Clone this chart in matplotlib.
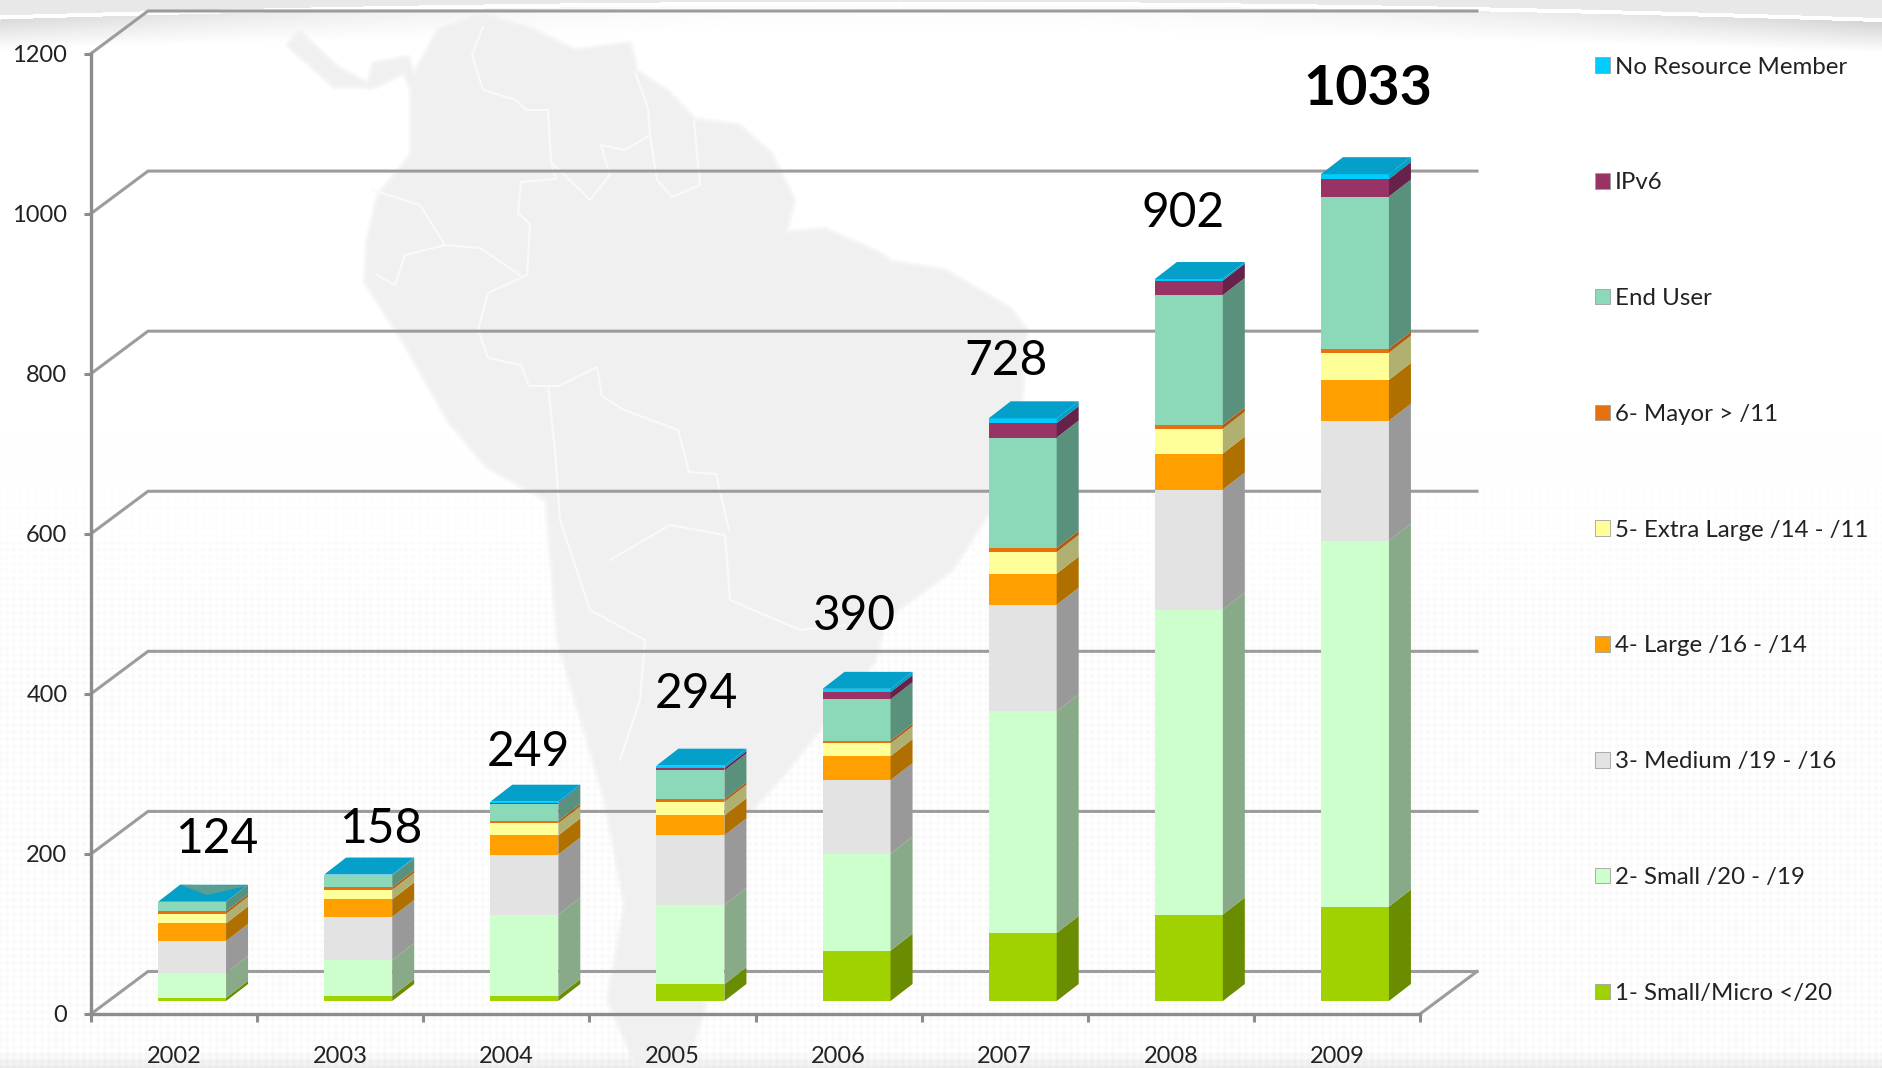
import numpy as np
import matplotlib
matplotlib.use('Agg')
import matplotlib.pyplot as plt
from matplotlib.patches import Patch, Polygon

plt.rcParams['font.family'] = ['Lato', 'DejaVu Sans']

# =============================================================================
# DATA
# =============================================================================
years = ['2002', '2003', '2004', '2005', '2006', '2007', '2008', '2009']
totals = [124, 158, 249, 294, 390, 728, 902, 1033]

small_micro = [4, 6, 6, 21, 63, 85, 108, 118]
small = [31, 45, 102, 99, 121, 277, 381, 457]
medium = [40, 54, 75, 87, 92, 133, 150, 150]
large = [22, 22, 24, 25, 30, 39, 45, 51]
extra_large = [12, 12, 15, 17, 16, 27, 31, 34]
mayor = [3, 3, 3, 3, 3, 5, 5, 5]
end_user = [12, 15, 21, 36, 52, 138, 162, 190]
ipv6 = [0, 0, 1, 3, 9, 18, 18, 22]
no_resource = [0, 1, 2, 3, 4, 6, 2, 6]

series_names = ['1- Small/Micro </20', '2- Small /20 - /19', '3- Medium /19 - /16',
                '4- Large /16 - /14', '5- Extra Large /14 - /11', '6- Mayor > /11',
                'End User', 'IPv6', 'No Resource Member']
series_values = [small_micro, small, medium, large, extra_large, mayor,
                 end_user, ipv6, no_resource]
front_colors = ['#9FD200', '#CCFFCC', '#E3E3E3', '#FF9F00', '#FFFF99', '#E8710F',
                '#8BD9B8', '#993366', '#00CCFF']
side_colors = ['#6A8C00', '#88AA88', '#999999', '#B07000', '#B0B070', '#B05A10',
               '#5A917C', '#66224A', '#00A0C8']
top_color = '#04A0CA'

y_ticks = [0, 200, 400, 600, 800, 1000, 1200]

# label shifts from the bar, in pixels (placed by hand in the original)
label_dx = [25, 23, 4, 6, -2, -17, -6, 13]
label_dy = [63, 46, 50, 72, 73, 57, 66, 85]

# =============================================================================
# FIGURE AND BACKGROUND
# =============================================================================
W, H = 1882, 1068
fig = plt.figure(figsize=(W / 100, H / 100), dpi=100)

bg = fig.add_axes([0, 0, 1, 1], zorder=0)
bg.set_xlim(0, W)
bg.set_ylim(H, 0)
bg.axis('off')

# faint paper texture, stronger towards the bottom
yy, xx = np.mgrid[0:H, 0:W]
tex = ((xx + yy) % 14 < 7) ^ ((xx - yy) % 14 < 7)
img = 1.0 - 0.022 * tex * np.clip((yy - 380) / 300.0, 0, 1)

# curved white streak at the top, grey above it and a fade below it
edge = ((xx - 900) / 900.0) ** 2
streak = 3 + 14 * edge
img = img - 0.09 * (yy < streak - 2)
below = np.clip(1 - (yy - streak - 3) / 30.0, 0, 1) * (yy > streak + 2)
img = img - below * (0.015 + 0.13 * edge)
img = img - np.clip((yy - 1050) / 18.0, 0, 1) * 0.07
bg.imshow(img, cmap='gray', vmin=0, vmax=1, extent=[0, W, H, 0], aspect='auto', zorder=0)

# South America outline behind the chart, edge soft like the blurred original
mapa = [(299, 34), (337, 69), (369, 86), (375, 65), (407, 59), (413, 79), (440, 31),
        (483, 17), (532, 31), (575, 52), (629, 45), (635, 72), (667, 93), (694, 121),
        (738, 127), (770, 155), (792, 200), (784, 234), (825, 231), (879, 255),
        (890, 263), (944, 272), (1009, 310), (1025, 331), (1020, 396), (1015, 470),
        (950, 569), (883, 618), (873, 660), (783, 772), (740, 820), (667, 904),
        (657, 936), (703, 1006), (683, 1068), (640, 1068), (610, 1000), (627, 905),
        (607, 800), (560, 640), (548, 499), (488, 465), (450, 420), (407, 344),
        (367, 282), (369, 241), (380, 196), (413, 155), (413, 90), (405, 70),
        (375, 85), (335, 85), (290, 45)]
for lw in [7, 5, 3, 1.5]:
    bg.add_patch(Polygon(mapa, closed=True, fc='none', ec='#F0F0F0', lw=lw, alpha=0.3,
                         joinstyle='round', zorder=1))
bg.add_patch(Polygon(mapa, closed=True, fc='#F0F0F0', ec='none', zorder=1))

# country borders, in white
granice = [
    [(483, 27), (472, 55), (483, 90), (516, 100), (526, 110), (548, 110), (551, 162),
     (556, 179), (521, 182), (518, 213), (530, 224), (527, 275), (488, 293), (478, 330),
     (488, 358), (521, 365), (529, 386), (559, 386), (597, 367), (602, 396), (624, 410),
     (678, 430), (689, 472), (716, 474), (729, 530)],
    [(551, 162), (590, 200), (610, 175), (601, 145), (625, 150), (650, 135), (648, 108), (635, 72)],
    [(650, 135), (657, 180), (672, 197), (700, 185), (694, 121)],
    [(372, 190), (420, 205), (445, 245), (480, 248), (520, 275)],
    [(445, 245), (405, 255), (395, 285), (377, 275)],
    [(548, 386), (555, 450), (560, 520), (590, 610), (645, 640), (640, 700), (620, 760)],
    [(610, 560), (670, 525), (725, 535), (730, 600), (800, 630), (845, 625)],
]
for g in granice:
    bx, by = zip(*g)
    bg.plot(bx, by, color='#F9F9F9', lw=1.6, zorder=2)

# =============================================================================
# CHART AXES
# =============================================================================
x_left, x_right, y_zero, y_top = 91, 1420, 1014, 53.5
ax = fig.add_axes([x_left / W, 1 - y_zero / H, (x_right - x_left) / W, (y_zero - y_top) / H],
                  zorder=2)
ax.patch.set_alpha(0)
ax.set_xlim(0, len(years))
ax.set_ylim(0, 1200)

px_x = len(years) / (x_right - x_left)   # one pixel in x units
px_y = 1200 / (y_zero - y_top)           # one pixel in y units

grid_col = '#9C9C9C'
wall_dx, wall_dy = 57 * px_x, 42.5 * px_y
for t in y_ticks:
    ax.plot([0, wall_dx, len(years) + wall_dx], [t, t + wall_dy, t + wall_dy],
            color=grid_col, lw=2.2, clip_on=False, zorder=1, solid_joinstyle='miter')
ax.plot([len(years), len(years) + wall_dx], [0, wall_dy], color=grid_col, lw=2.2,
        clip_on=False, zorder=1)

# =============================================================================
# STACKED BARS WITH DEPTH
# =============================================================================
bar_shift, bar_lift = 18 * px_x, 13 * px_y
bar_w = 68 * px_x
dep_x, dep_y = 22 * px_x, 17 * px_y

x_left_bar = np.arange(len(years)) + 0.5 + bar_shift - bar_w / 2
bottoms = np.zeros(len(years))
for vals, fc, sc in zip(series_values, front_colors, side_colors):
    vals = np.array(vals, dtype=float)
    ax.bar(x_left_bar, vals, width=bar_w, bottom=bottoms + bar_lift, align='edge',
           color=fc, linewidth=0, zorder=3)
    for xb, b, v in zip(x_left_bar, bottoms + bar_lift, vals):
        if v > 0:
            xr = xb + bar_w
            ax.add_patch(Polygon([(xr, b), (xr + dep_x, b + dep_y), (xr + dep_x, b + v + dep_y), (xr, b + v)],
                                 closed=True, fc=sc, ec='none', zorder=3))
    bottoms = bottoms + vals

# bar tops and totals
for i, xb in enumerate(x_left_bar):
    t = bottoms[i] + bar_lift
    xr = xb + bar_w
    ax.add_patch(Polygon([(xb, t), (xr, t), (xr + dep_x, t + dep_y), (xb + dep_x, t + dep_y)],
                         closed=True, fc=top_color, ec='none', zorder=4))
    ax.text(xb + bar_w / 2 + label_dx[i] * px_x, t + label_dy[i] * px_y, str(totals[i]),
            ha='center', va='center', fontsize=34.5 if i < 7 else 40,
            fontweight='normal' if i < 7 else 'bold', color='black', zorder=6, clip_on=False)

# 2002 has a rendering glitch on its top face in the original
t0 = bottoms[0] + bar_lift
xb0 = x_left_bar[0]
ax.add_patch(Polygon([(xb0 + dep_x, t0 + dep_y), (xb0 + bar_w + dep_x, t0 + dep_y * 0.95),
                      (xb0 + bar_w * 0.72, t0 + dep_y * 0.4)],
                     closed=True, fc='#5E9E90', ec='none', zorder=5))

# =============================================================================
# AXES STYLE AND LEGEND
# =============================================================================
for s in ['top', 'right']:
    ax.spines[s].set_visible(False)
for s in ['left', 'bottom']:
    ax.spines[s].set_color('#8C8C8C')
    ax.spines[s].set_linewidth(2.4)
    ax.spines[s].set_zorder(2)

ax.set_yticks(y_ticks)
ax.tick_params(axis='y', length=5, width=2.2, color='#8C8C8C', labelsize=17, pad=12,
               labelcolor='#222222')
ax.set_xticks(np.arange(len(years) + 1))
ax.set_xticklabels([])
ax.set_xticks(np.arange(len(years)) + 0.5, labels=years, minor=True)
ax.tick_params(axis='x', which='major', length=6, width=2.2, color='#8C8C8C')
ax.tick_params(axis='x', which='minor', length=0, labelsize=17, pad=23, labelcolor='#222222')

handles = [Patch(fc=c, ec='#A0A0A0', lw=0.6, label=n) for n, c in zip(series_names, front_colors)]
ax.legend(handles=handles[::-1], loc='upper left', bbox_to_anchor=(1595 / W, 1 - 56.5 / H),
          bbox_transform=fig.transFigure, frameon=False, fontsize=17.3, labelcolor='#222222',
          labelspacing=3.945, handlelength=0.62, handleheight=0.62, handletextpad=0.22,
          borderpad=0, borderaxespad=0)

fig.savefig('out.png', dpi=100)
